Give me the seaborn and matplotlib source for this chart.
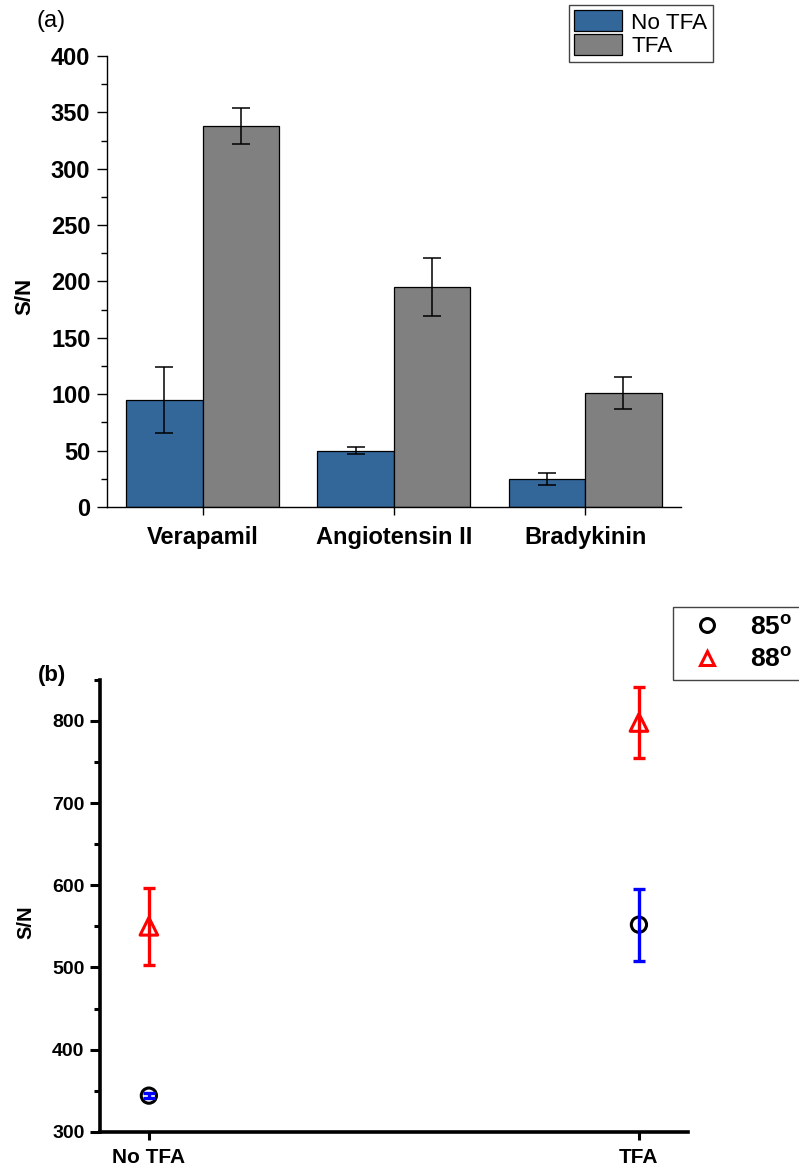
import numpy as np
import pandas as pd
import matplotlib
matplotlib.use("Agg")
import matplotlib.pyplot as plt
from matplotlib.ticker import MultipleLocator
from matplotlib.patches import Patch
from matplotlib.lines import Line2D
import seaborn as sns

# ---- data: (a) S/N per peptide, with and without TFA ----
peptides = ["Verapamil", "Angiotensin II", "Bradykinin"]
conditions = ["No TFA", "TFA"]
sn_no_tfa = [95, 50, 25]
sn_no_tfa_err = [29, 3, 5.5]
sn_tfa = [338, 195, 101]
sn_tfa_err = [16, 26, 14]
bar_colors = ["#336699", "#808080"]

# ---- data: (b) S/N at two spray angles ----
groups_b = ["No TFA", "TFA"]
sn_85 = [344, 552]
sn_85_err = [3, 44]
sn_88 = [550, 798]
sn_88_err = [47, 43]

sns.set_theme(style="ticks")
plt.rcParams["font.family"] = ["Liberation Sans", "DejaVu Sans"]
plt.rcParams["mathtext.fontset"] = "custom"
plt.rcParams["mathtext.rm"] = "Liberation Sans"
plt.rcParams["mathtext.bf"] = "Liberation Sans:bold"
for key in ["text.color", "axes.labelcolor", "xtick.color", "ytick.color",
            "axes.edgecolor"]:
    plt.rcParams[key] = "black"

fig = plt.figure(figsize=(7.99, 11.68), dpi=100)

# ================= panel (a) =================
ax1 = fig.add_axes([0.134, 0.566, 0.718, 0.386])
df_a = pd.DataFrame({
    "peptide": peptides * 2,
    "sn": sn_no_tfa + sn_tfa,
    "err": sn_no_tfa_err + sn_tfa_err,
    "condition": [conditions[0]] * 3 + [conditions[1]] * 3,
})
sns.barplot(data=df_a, x="peptide", y="sn", hue="condition", order=peptides,
            hue_order=conditions, palette=bar_colors, saturation=1,
            edgecolor="black", linewidth=0.9, width=0.8, errorbar=None,
            legend=False, ax=ax1)

for cont, vals, errs in zip(ax1.containers, [sn_no_tfa, sn_tfa],
                            [sn_no_tfa_err, sn_tfa_err]):
    xs = [p.get_x() + p.get_width() / 2 for p in cont.patches]
    ax1.errorbar(xs, vals, yerr=errs, fmt="none", ecolor="black",
                 elinewidth=1.1, capsize=6.5, capthick=1.1, zorder=3)

ax1.set_xlim(-0.5, 2.5)
ax1.set_ylim(0, 400)
ax1.yaxis.set_major_locator(MultipleLocator(50))
ax1.yaxis.set_minor_locator(MultipleLocator(25))
ax1.tick_params(axis="y", which="major", length=7, width=1.0, labelsize=17, pad=5)
ax1.tick_params(axis="y", which="minor", length=4, width=1.0)
ax1.tick_params(axis="x", which="major", length=6, width=1.0, labelsize=17, pad=8)
for lab in ax1.get_xticklabels() + ax1.get_yticklabels():
    lab.set_fontweight("bold")
for s in ["top", "right"]:
    ax1.spines[s].set_visible(False)
for s in ["left", "bottom"]:
    ax1.spines[s].set_linewidth(1.0)
ax1.set_xlabel("")
ax1.set_ylabel("S/N", fontsize=16, fontweight="bold")
ax1.yaxis.set_label_coords(-0.1255, 0.467)

handles_a = [Patch(facecolor=c, edgecolor="black", linewidth=0.9, label=l)
             for c, l in zip(bar_colors, conditions)]
leg_a = fig.legend(handles=handles_a, loc="upper left",
                   bbox_to_anchor=(569 / 799, 1 - 5 / 1168), fontsize=16.2,
                   frameon=True, fancybox=False, framealpha=1, borderaxespad=0,
                   handlelength=2.13, handleheight=1.05, handletextpad=0.4,
                   labelspacing=0.02, borderpad=0.24)
leg_a.get_frame().set_edgecolor("#444444")
leg_a.get_frame().set_linewidth(1.0)

fig.text(36 / 799, 1 - 21 / 1168, "(a)", fontsize=17, va="center", ha="left")

# ================= panel (b) =================
ax2 = fig.add_axes([0.125, 0.031, 0.736, 0.387])
series_b = [
    (sn_85, sn_85_err, "o", 120, "black", "blue", r"85$^{\mathbf{o}}$"),
    (sn_88, sn_88_err, "^", 160, "red", "red", r"88$^{\mathbf{o}}$"),
]
for vals, errs, mk, size, mcol, ecol, lab in series_b:
    sns.scatterplot(x=groups_b, y=vals, marker=mk, s=size, facecolor="none",
                    edgecolor=mcol, linewidth=2.2, ax=ax2, zorder=2)
    ax2.errorbar(groups_b, vals, yerr=errs, fmt="none", ecolor=ecol,
                 elinewidth=2.4, capsize=4.5, capthick=2.4, zorder=3)

ax2.set_xlim(-0.1, 1.1)
ax2.set_ylim(300, 850)
ax2.yaxis.set_major_locator(MultipleLocator(100))
ax2.yaxis.set_minor_locator(MultipleLocator(50))
ax2.tick_params(axis="y", which="major", length=7, width=2.2, labelsize=14, pad=4)
ax2.tick_params(axis="y", which="minor", length=4, width=2.2)
ax2.tick_params(axis="x", which="major", length=6, width=2.2, labelsize=15, pad=6)
for lab in ax2.get_xticklabels() + ax2.get_yticklabels():
    lab.set_fontweight("bold")
for s in ["top", "right"]:
    ax2.spines[s].set_visible(False)
for s in ["left", "bottom"]:
    ax2.spines[s].set_linewidth(2.6)
ax2.set_xlabel("")
ax2.set_ylabel("S/N", fontsize=14.5, fontweight="bold")
ax2.yaxis.set_label_coords(-0.1105, 0.464)

handles_b = [Line2D([], [], linestyle="none", marker=mk, markersize=10,
                    markerfacecolor="none", markeredgecolor=mcol,
                    markeredgewidth=2.2, label=lab)
             for _, _, mk, _, mcol, _, lab in series_b]
leg_b = fig.legend(handles=handles_b, loc="upper left",
                   bbox_to_anchor=(673 / 799, 1 - 607 / 1168),
                   prop={"size": 19, "weight": "bold"}, frameon=True,
                   fancybox=False, framealpha=1, borderaxespad=0,
                   handlelength=2.0, handletextpad=0.6, labelspacing=0.3,
                   borderpad=0.3)
leg_b.get_frame().set_edgecolor("#444444")
leg_b.get_frame().set_linewidth(1.0)

fig.text(38 / 799, 1 - 675 / 1168, "(b)", fontsize=16, fontweight="bold",
         va="center", ha="left")

fig.savefig("out.png", dpi=100)
